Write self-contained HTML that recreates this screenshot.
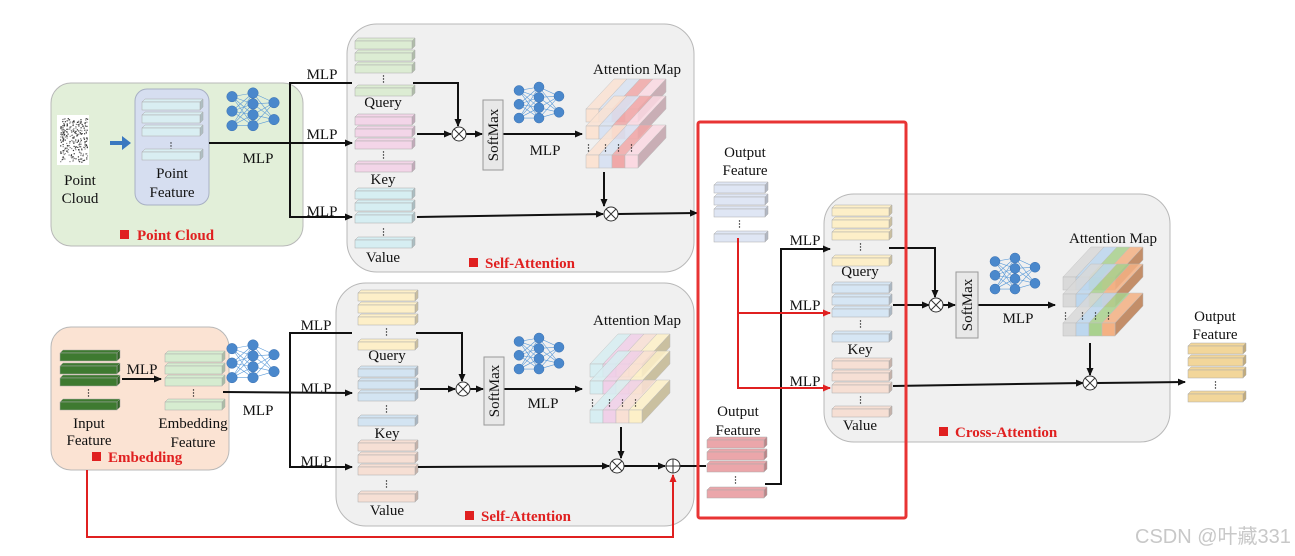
<!DOCTYPE html>
<html><head><meta charset="utf-8">
<style>
html,body{margin:0;padding:0;background:#fff;}
svg{display:block;}
text{font-family:"Liberation Serif",serif;fill:#111;}
.lbl{font-size:15px;}
.red{fill:#e02020;font-weight:bold;font-size:15px;}
.wm{font-family:"Liberation Sans","Noto Sans CJK SC",sans-serif;fill:#c8c8c8;font-size:20px;}
</style></head>
<body>
<svg id="s" width="1295" height="556" viewBox="0 0 1295 556" xmlns="http://www.w3.org/2000/svg">
<defs>
<marker id="a" markerWidth="8" markerHeight="8" refX="7" refY="4" orient="auto" markerUnits="userSpaceOnUse"><path d="M0,0.5 L8,4 L0,7.5 z" fill="#111"/></marker>
<marker id="ar" markerWidth="8" markerHeight="8" refX="7" refY="4" orient="auto" markerUnits="userSpaceOnUse"><path d="M0,0.5 L8,4 L0,7.5 z" fill="#e02020"/></marker>
</defs>
<!-- boxes -->
<rect x="51" y="83" width="252" height="163" rx="20" fill="#e2efd9" stroke="#b8b8b8"/>
<rect x="135" y="89" width="74" height="116" rx="12" fill="#d6def0" stroke="#a8b0c4"/>
<rect x="347" y="24" width="347" height="248" rx="30" fill="#f0f0f0" stroke="#b8b8b8"/>
<rect x="51" y="327" width="178" height="143" rx="20" fill="#fbe3d3" stroke="#b8b8b8"/>
<rect x="336" y="283" width="358" height="243" rx="30" fill="#f0f0f0" stroke="#b8b8b8"/>
<rect x="824" y="194" width="346" height="248" rx="30" fill="#f0f0f0" stroke="#b8b8b8"/>
<g id="g"></g>
<!-- point cloud image -->
<rect x="57" y="115" width="32" height="50" fill="#fff"/>
<g id="pc"></g>
<path d="M110,141 L122,141 L122,136 L131,143 L122,150 L122,145 L110,145z" fill="#3a78c0"/>
<!-- lines -->
<g stroke="#111" stroke-width="2" fill="none">
<path d="M209,143 L352,143" marker-end="url(#a)"/>
<path d="M352,83 L290,83 L290,217 L352,217" marker-end="url(#a)"/>
<path d="M413,83 L458,83 L458,126" marker-end="url(#a)"/>
<path d="M417,134 L451,134" marker-end="url(#a)"/>
<path d="M466,134 L482,134" marker-end="url(#a)"/>
<path d="M503,134 L582,134" marker-end="url(#a)"/>
<path d="M604,172 L604,206" marker-end="url(#a)"/>
<path d="M417,217 L603,214" marker-end="url(#a)"/>
<path d="M618,214 L697,213" marker-end="url(#a)"/>
<path d="M223,392 L352,393" marker-end="url(#a)"/>
<path d="M352,333 L290,333 L290,467 L352,467" marker-end="url(#a)"/>
<path d="M122,379 L161,379" marker-end="url(#a)"/>
<path d="M416,333 L462,333 L462,381" marker-end="url(#a)"/>
<path d="M420,389 L455,389" marker-end="url(#a)"/>
<path d="M470,389 L483,389" marker-end="url(#a)"/>
<path d="M504,389 L582,389" marker-end="url(#a)"/>
<path d="M621,427 L621,458" marker-end="url(#a)"/>
<path d="M418,467 L609,466" marker-end="url(#a)"/>
<path d="M624,466 L665,466" marker-end="url(#a)"/>
<path d="M680,466 L706,466"/>
<path d="M765,484 L781,484 L781,249 L830,249" marker-end="url(#a)"/>
<path d="M889,248 L935,248 L935,297" marker-end="url(#a)"/>
<path d="M893,305 L929,305" marker-end="url(#a)"/>
<path d="M943,305 L955,305" marker-end="url(#a)"/>
<path d="M978,305 L1055,305" marker-end="url(#a)"/>
<path d="M1090,343 L1090,375" marker-end="url(#a)"/>
<path d="M893,386 L1083,383" marker-end="url(#a)"/>
<path d="M1097,383 L1185,382" marker-end="url(#a)"/>
</g>
<g stroke="#e02020" stroke-width="2" fill="none">
<path d="M738,238 L738,388 L830,388" marker-end="url(#ar)"/>
<path d="M738,313 L830,313" marker-end="url(#ar)"/>
<path d="M87,470 L87,537 L673,537 L673,475" marker-end="url(#ar)"/>
</g>
<rect x="698" y="122" width="208" height="396" fill="none" stroke="#e83434" stroke-width="3" rx="2"/>
<!-- circles -->
<g fill="#fff" stroke="#333" stroke-width="1">
<circle cx="459" cy="134" r="7"/><circle cx="611" cy="214" r="7"/>
<circle cx="463" cy="389" r="7"/><circle cx="617" cy="466" r="7"/>
<circle cx="673" cy="466" r="7"/>
<circle cx="936" cy="305" r="7"/><circle cx="1090" cy="383" r="7"/>
</g>
<g stroke="#333" stroke-width="1">
<path d="M454,129 l10,10 M464,129 l-10,10 M606,209 l10,10 M616,209 l-10,10 M458,384 l10,10 M468,384 l-10,10 M612,461 l10,10 M622,461 l-10,10 M931,300 l10,10 M941,300 l-10,10 M1085,378 l10,10 M1095,378 l-10,10 M666,466 h14 M673,459 v14"/>
</g>
<!-- softmax boxes -->
<g fill="#e8e8e8" stroke="#999">
<rect x="483" y="100" width="20" height="70"/><rect x="484" y="357" width="20" height="68"/><rect x="956" y="272" width="22" height="66"/>
</g>
<text class="lbl" transform="translate(498,135) rotate(-90)" text-anchor="middle">SoftMax</text>
<text class="lbl" transform="translate(499,391) rotate(-90)" text-anchor="middle">SoftMax</text>
<text class="lbl" transform="translate(972,305) rotate(-90)" text-anchor="middle">SoftMax</text>
<!-- labels -->
<g class="lbl" text-anchor="middle">
<text x="80" y="185" font-size="15">Point</text><text x="80" y="203">Cloud</text>
<text x="172" y="178">Point</text><text x="172" y="197">Feature</text>
<text x="258" y="163">MLP</text>
<text x="322" y="79">MLP</text><text x="322" y="139">MLP</text><text x="322" y="216">MLP</text>
<text x="383" y="107">Query</text><text x="383" y="184">Key</text><text x="383" y="262">Value</text>
<text x="545" y="155">MLP</text><text x="637" y="74">Attention Map</text>
<text x="745" y="157">Output</text><text x="745" y="175">Feature</text>
<text x="89" y="428">Input</text><text x="89" y="445">Feature</text>
<text x="193" y="428">Embedding</text><text x="193" y="447">Feature</text>
<text x="142" y="374">MLP</text><text x="258" y="415">MLP</text>
<text x="316" y="330">MLP</text><text x="316" y="393">MLP</text><text x="316" y="466">MLP</text>
<text x="387" y="360">Query</text><text x="387" y="438">Key</text><text x="387" y="515">Value</text>
<text x="543" y="408">MLP</text><text x="637" y="325">Attention Map</text>
<text x="738" y="416">Output</text><text x="738" y="435">Feature</text>
<text x="805" y="245">MLP</text><text x="805" y="310">MLP</text><text x="805" y="386">MLP</text>
<text x="860" y="276">Query</text><text x="860" y="354">Key</text><text x="860" y="430">Value</text>
<text x="1018" y="323">MLP</text><text x="1113" y="243">Attention Map</text>
<text x="1215" y="321">Output</text><text x="1215" y="339">Feature</text>
</g>
<rect x="120" y="230" width="9" height="9" fill="#e02020"/><text class="red" x="137" y="240">Point Cloud</text>
<rect x="469" y="258" width="9" height="9" fill="#e02020"/><text class="red" x="485" y="268">Self-Attention</text>
<rect x="92" y="452" width="9" height="9" fill="#e02020"/><text class="red" x="108" y="462">Embedding</text>
<rect x="465" y="511" width="9" height="9" fill="#e02020"/><text class="red" x="481" y="521">Self-Attention</text>
<rect x="939" y="427" width="9" height="9" fill="#e02020"/><text class="red" x="955" y="437">Cross-Attention</text>
<text class="wm" x="1135" y="543">CSDN @叶藏331</text>
</svg>
<script>
var NS="http://www.w3.org/2000/svg",G=document.getElementById("g");
function el(t,a,p){var e=document.createElementNS(NS,t);for(var k in a)e.setAttribute(k,a[k]);(p||G).appendChild(e);return e;}
function shade(c,f){var n=parseInt(c.slice(1),16),r=n>>16,g=n>>8&255,b=n&255;r=Math.round(r*f);g=Math.round(g*f);b=Math.round(b*f);return "rgb("+r+","+g+","+b+")";}
function bar(x,y,w,c){var h=8,d=3;el("path",{d:"M"+x+","+y+" l"+d+","+(-d)+" h"+w+" l"+(-d)+","+d+"z",fill:shade(c,1.0),stroke:"#aaa","stroke-width":0.5});
el("path",{d:"M"+(x+w)+","+y+" l"+d+","+(-d)+" v"+h+" l"+(-d)+","+d+"z",fill:shade(c,0.8),stroke:"#aaa","stroke-width":0.5});
el("rect",{x:x,y:y,width:w,height:h,fill:c,stroke:"#aaa","stroke-width":0.5});}
function dots(x,y){for(var i=0;i<3;i++)el("circle",{cx:x,cy:y+i*3,r:0.7,fill:"#222"});}
function stack(x,ys,dy,last,w,c){ys.forEach(function(y){bar(x,y,w,c)});dots(x+w/2,dy);bar(x,last,w,c);}
stack(142,[102,115,128],143,152,58,"#d9eef2");
stack(355,[41,53,65],76,88,57,"#dcecd3");
stack(355,[117,129,141],152,164,57,"#f3d5e8");
stack(355,[191,203,215],229,240,57,"#d6eef2");
stack(714,[185,197,209],221,234,51,"#dfe6f4");
stack(832,[208,220,232],244,258,57,"#fdefc8");
stack(832,[285,297,309],321,334,57,"#d6e6f4");
stack(832,[361,373,385],397,409,57,"#f6dfd4");
stack(1188,[346,358,370],382,394,55,"#f2d69a");
stack(60,[353,366,378],390,402,57,"#3e7a30");
stack(165,[354,366,378],390,402,57,"#d6ecd0");
stack(358,[293,305,317],329,342,57,"#fdefc8");
stack(358,[369,381,393],406,418,57,"#d3e4f2");
stack(358,[443,455,467],481,494,57,"#f6dfd4");
stack(707,[440,452,464],477,490,57,"#eba6aa");
function nn(x,y,s){var L=[[0,12,24],[0,9,18,27],[5,19]],X=[0,20,40];var P=L.map(function(l,i){return l.map(function(v){return [x+X[i]*s,y+(v+(i==1?0:3))*s*1.15]})});
for(var i=0;i<2;i++)P[i].forEach(function(a){P[i+1].forEach(function(b){el("line",{x1:a[0],y1:a[1],x2:b[0],y2:b[1],stroke:"#5a9ad8","stroke-width":0.6})})});
P.forEach(function(l){l.forEach(function(p){el("circle",{cx:p[0],cy:p[1],r:5*s,fill:"#4a88cc",stroke:"#3a70b0","stroke-width":0.5})})});}
nn(232,93,1.05);nn(519,87,1.0);nn(232,345,1.05);nn(519,338,1.0);nn(995,258,1.0);
function attn(x,ys,cols){var cw=13,h=13,dx=28,dy=30;ys.forEach(function(y){
cols.forEach(function(c,i){var cx=x+i*cw;el("path",{d:"M"+cx+","+y+" l"+dx+","+(-dy)+" h"+cw+" l"+(-dx)+","+dy+"z",fill:c,stroke:"#bbb","stroke-width":0.5,opacity:0.85});});
var rx=x+cols.length*cw;el("path",{d:"M"+rx+","+y+" l"+dx+","+(-dy)+" v"+h+" l"+(-dx)+","+dy+"z",fill:shade(cols[cols.length-1],0.8),stroke:"#bbb","stroke-width":0.5});
cols.forEach(function(c,i){el("rect",{x:x+i*cw,y:y,width:cw,height:h,fill:c,stroke:"#bbb","stroke-width":0.5})});});
var yd=ys[1]+h+6;cols.forEach(function(c,i){dots(x+i*cw+cw/2+(i==0?-4:0),yd)});}
attn(586,[109,126,155],["#fbe3d3","#d9e2f2","#f0a8a8","#fbd9e2"]);
attn(590,[364,381,410],["#d7eef2","#f0d0e8","#f9e0d4","#fdf0c8"]);
attn(1063,[277,294,323],["#d9d9d9","#bdd7ee","#a9d18e","#f4b183"]);
var pc=document.getElementById("pc");var sd=7;function rnd(){sd=(sd*9301+49297)%233280;return sd/233280;}
for(var i=0;i<260;i++){var a=rnd(),b=rnd();el("rect",{x:60+a*27,y:118+b*44,width:1.2,height:1.2,fill:rnd()<0.5?"#333":"#888"},pc);}
</script>
</body></html>
